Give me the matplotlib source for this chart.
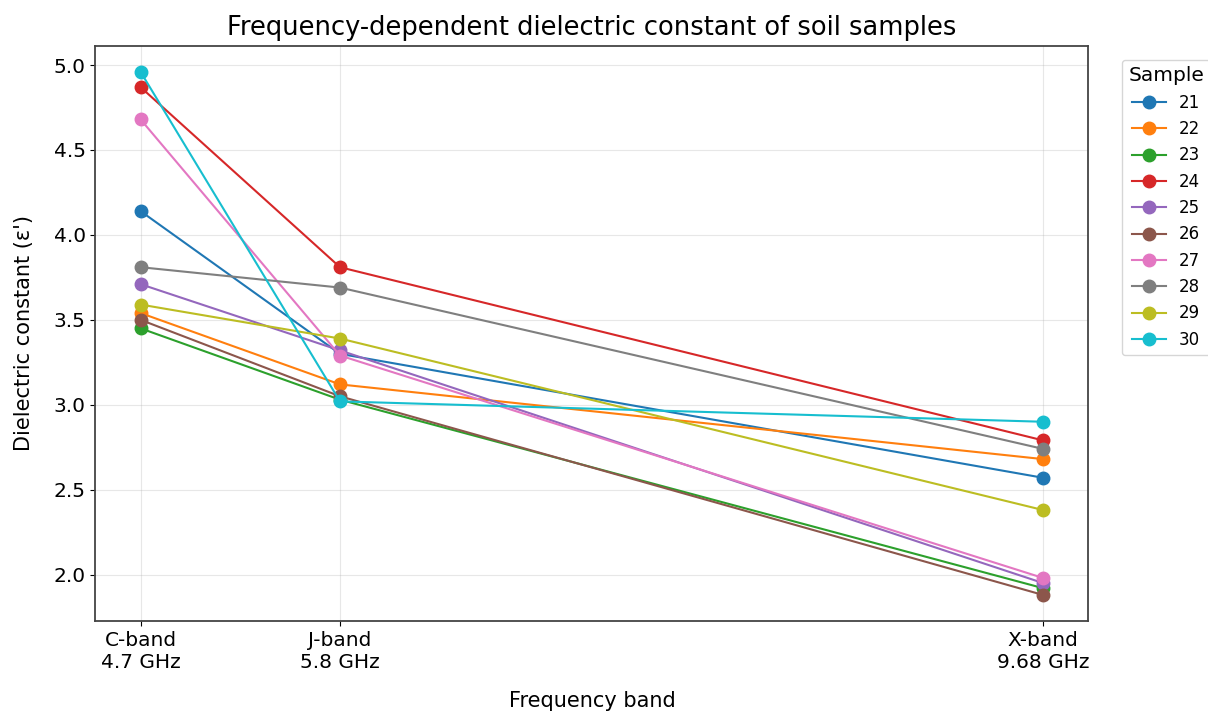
import matplotlib
matplotlib.use("Agg")
import matplotlib.pyplot as plt

# frequencies (GHz) and band tick labels
freqs = [4.7, 5.8, 9.68]
band_labels = ["C-band\n4.7 GHz", "J-band\n5.8 GHz", "X-band\n9.68 GHz"]

samples = ["21", "22", "23", "24", "25", "26", "27", "28", "29", "30"]

# dielectric constant at C, J, X band for each sample
s21 = [4.14, 3.30, 2.57]
s22 = [3.54, 3.12, 2.68]
s23 = [3.45, 3.03, 1.92]
s24 = [4.87, 3.81, 2.79]
s25 = [3.71, 3.32, 1.95]
s26 = [3.50, 3.05, 1.88]
s27 = [4.68, 3.29, 1.98]
s28 = [3.81, 3.69, 2.74]
s29 = [3.59, 3.39, 2.38]
s30 = [4.96, 3.02, 2.90]
values = [s21, s22, s23, s24, s25, s26, s27, s28, s29, s30]

fig = plt.figure(figsize=(12.08, 7.14), dpi=100)
ax = fig.add_axes([0.079, 0.130, 0.822, 0.806])

for name, vals in zip(samples, values):
    ax.plot(freqs, vals, marker="o", markersize=9, linewidth=1.5, label=name)

ax.set_xticks(freqs)
ax.set_xticklabels(band_labels, fontsize=14.5)
ax.tick_params(axis="y", labelsize=14.5)
ax.set_xlabel("Frequency band", fontsize=15, labelpad=14)
ax.set_ylabel("Dielectric constant (ε')", fontsize=15, labelpad=14)
ax.set_title("Frequency-dependent dielectric constant of soil samples", fontsize=18.5, pad=8)
ax.grid(True, alpha=0.3)
for sp in ax.spines.values():
    sp.set_linewidth(1.3)
    sp.set_color("#444444")

ax.legend(title="Sample", bbox_to_anchor=(1.025, 0.99), loc="upper left",
          fontsize=12, title_fontsize=14.5)

fig.savefig("out.png", dpi=100)
